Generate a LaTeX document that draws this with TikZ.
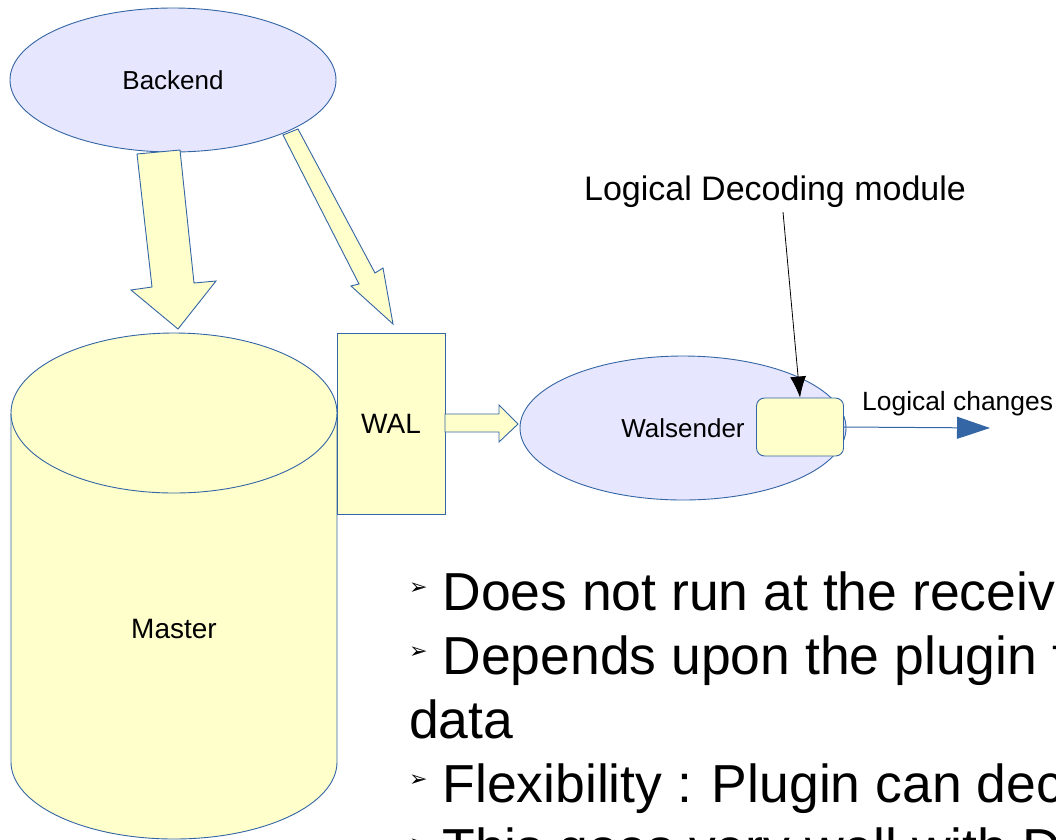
\documentclass[tikz,border=0pt]{standalone}
\usepackage{fontspec}
\setmainfont{Liberation Sans}
\newfontfamily\bulfont{DejaVu Sans}
\usetikzlibrary{shapes.geometric,arrows.meta,positioning}

\definecolor{lavender}{HTML}{E6E6FF}
\definecolor{paleyellow}{HTML}{FFFFCC}
\definecolor{edgeblue}{HTML}{3465A4}

\newcommand{\bul}{\raisebox{16pt}{\bulfont\fontsize{22}{22}\selectfont ➢}}

\tikzset{
  process/.style={ellipse, draw=edgeblue, fill=lavender, line width=0.9pt,
    minimum width=326pt, minimum height=144pt, font=\fontsize{26}{30}\selectfont},
  storebox/.style={draw=edgeblue, fill=paleyellow, line width=0.9pt},
  blockarrow/.style={draw=edgeblue, fill=paleyellow, line width=0.9pt, line join=miter},
  plainlabel/.style={inner sep=0pt, font=\fontsize{26}{30}\selectfont},
  bulletline/.style={anchor=base west, inner sep=0pt, font=\fontsize{53.5}{64}\selectfont}
}

\begin{document}
\begin{tikzpicture}[x=1pt, y=-1pt]
  \useasboundingbox (0,0) rectangle (1056,839);
  \clip (0,0) rectangle (1056,839);

  % Backend process
  \node[process] (backend) at (173,80) {Backend};

  % Master database (cylinder)
  \draw[storebox] (11,413) -- (11,762)
    arc[start angle=180, end angle=0, x radius=163, y radius=77]
    -- (337,413);
  \draw[storebox] (174,413) ellipse (163 and 80);
  \node[plainlabel, font=\fontsize{28}{32}\selectfont] (master) at (174,629) {Master};

  % WAL segment
  \node[storebox, minimum width=108pt, minimum height=181pt, plainlabel,
    font=\fontsize{28}{32}\selectfont] (wal) at (391,423.5) {WAL};

  % Block arrows
  \draw[blockarrow] (137,154) -- (180,150) -- (194,283) -- (216,281)
    -- (178,329) -- (131,290) -- (152,287) -- cycle;
  \draw[blockarrow] (283,135) -- (298,129) -- (375,273) -- (383,268)
    -- (393,324) -- (351,286) -- (359,284) -- cycle;
  \draw[blockarrow] (445,414) -- (499,414) -- (499,405) -- (518,424)
    -- (499,442) -- (499,432) -- (445,432) -- cycle;

  % Walsender with its decoding module
  \node[process] (walsender) at (683,428) {Walsender};
  \node[storebox, rounded corners=8pt, minimum width=87pt, minimum height=58pt]
    (decoder) at (800,427) {};

  \node[plainlabel, font=\fontsize{34}{40}\selectfont] (ldm) at (775,192)
    {Logical Decoding module};
  \draw[line width=0.8pt, -{Latex[length=21pt, width=16pt]}]
    ([xshift=8pt, yshift=-4pt]ldm.south) -- (decoder.north);

  % Output
  \coordinate (out) at (990,428);
  \draw[edgeblue, line width=1pt, -{Triangle[length=33pt, width=22pt]}]
    (decoder.east) -- (out);
  \node[plainlabel, anchor=base west, font=\fontsize{26.4}{30}\selectfont]
    (changes) at (862,410) {Logical changes};

  % Bullet points
  \node[bulletline] (b1) at (409,610) {\bul\ Does not run at the receiv};
  \node[bulletline] (b2) at (409,674) {\bul\ Depends upon the plugin t};
  \node[bulletline] (b2b) at (409,738) {data};
  \node[bulletline] (b3) at (409,802) {\bul\ Flexibility : Plugin can dec};
  \node[bulletline] (b4) at (409,866) {\bul\ This goes very well with D};
\end{tikzpicture}
\end{document}
